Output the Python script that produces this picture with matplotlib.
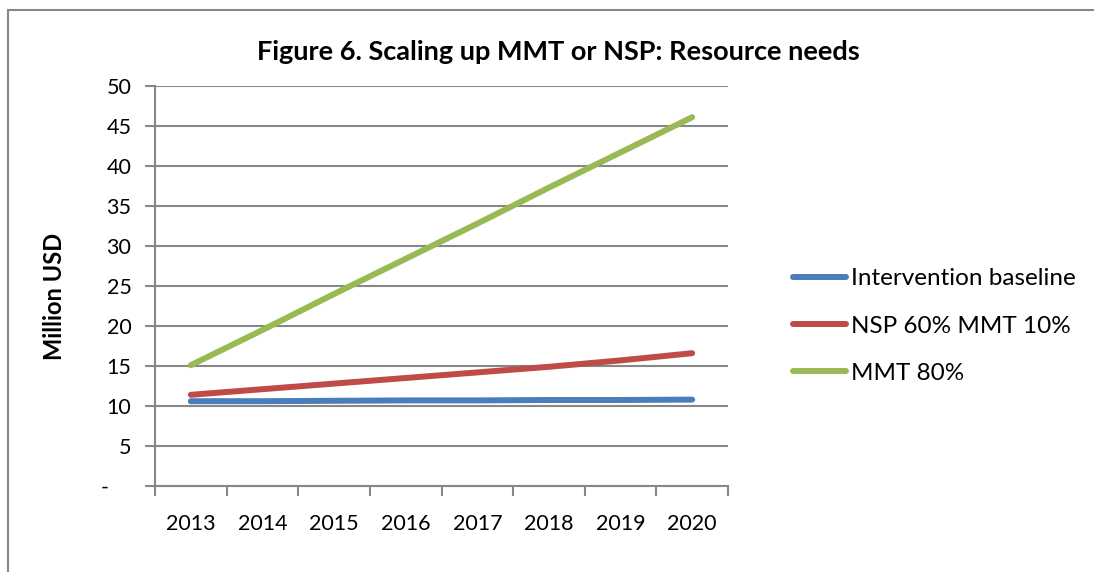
import numpy as np
import matplotlib.pyplot as plt
from matplotlib.patches import Rectangle

plt.rcParams['font.family'] = ['Lato', 'DejaVu Sans']

years = ['2013', '2014', '2015', '2016', '2017', '2018', '2019', '2020']
baseline = [10.6, 10.6, 10.65, 10.7, 10.7, 10.75, 10.75, 10.8]
nsp60_mmt10 = [11.4, 12.1, 12.8, 13.5, 14.2, 14.9, 15.7, 16.6]
mmt80 = [15.1, 19.5, 24.0, 28.4, 32.8, 37.3, 41.7, 46.1]
series_names = ['Intervention baseline', 'NSP 60% MMT 10%', 'MMT 80%']
colors = ['#4A7EBB', '#BE4B48', '#98B954']

fig = plt.figure(figsize=(10.94, 5.72), dpi=100)
# outer chart border (only top/left visible in the crop)
fig.patches.append(Rectangle((8 / 1094, -0.1), 1.2, 1 - 10 / 572 + 0.1,
                             transform=fig.transFigure, fill=False,
                             edgecolor='#878787', linewidth=1.5))

ax = fig.add_axes([155 / 1094, 1 - 486 / 572, 573 / 1094, 400 / 572])
x = np.arange(len(years))
for vals, name, c in zip([baseline, nsp60_mmt10, mmt80], series_names, colors):
    ax.plot(x, vals, color=c, linewidth=4.3, solid_capstyle='round', label=name)

ax.set_xlim(-0.5, len(years) - 0.5)
ax.set_ylim(0, 50)
ax.set_yticks(np.arange(0, 51, 5))
ax.set_yticklabels(['-    '] + [str(v) for v in range(5, 51, 5)])
ax.yaxis.grid(True, color='#878787', linewidth=1.5)
ax.set_axisbelow(True)

ax.set_xticks(np.arange(-0.5, len(years)), minor=False)
ax.set_xticklabels([])
ax.set_xticks(x, minor=True)
ax.set_xticklabels(years, minor=True)
ax.tick_params(axis='x', which='major', length=7, width=1.5, color='#878787', direction='out')
ax.tick_params(axis='x', which='minor', length=0, pad=20, labelsize=15.5)
ax.tick_params(axis='y', length=7, width=1.5, color='#878787', labelsize=15.5, pad=10)

for s in ['top', 'right']:
    ax.spines[s].set_visible(False)
for s in ['left', 'bottom']:
    ax.spines[s].set_color('#878787')
    ax.spines[s].set_linewidth(1.5)

fig.text(558 / 1094, 1 - 52 / 572, 'Figure 6. Scaling up MMT or NSP: Resource needs',
         ha='center', va='center', fontsize=19.5, fontweight='bold')
fig.text(55 / 1094, 1 - 296 / 572, 'Million USD', rotation=90,
         ha='center', va='center', fontsize=17, fontweight='bold')

fig.legend(loc='center left', bbox_to_anchor=(771 / 1094, 1 - 326 / 572),
           frameon=False, fontsize=17.5, handlelength=2.2, handletextpad=0.2,
           labelspacing=1.08)

fig.savefig('out.png', dpi=100)
